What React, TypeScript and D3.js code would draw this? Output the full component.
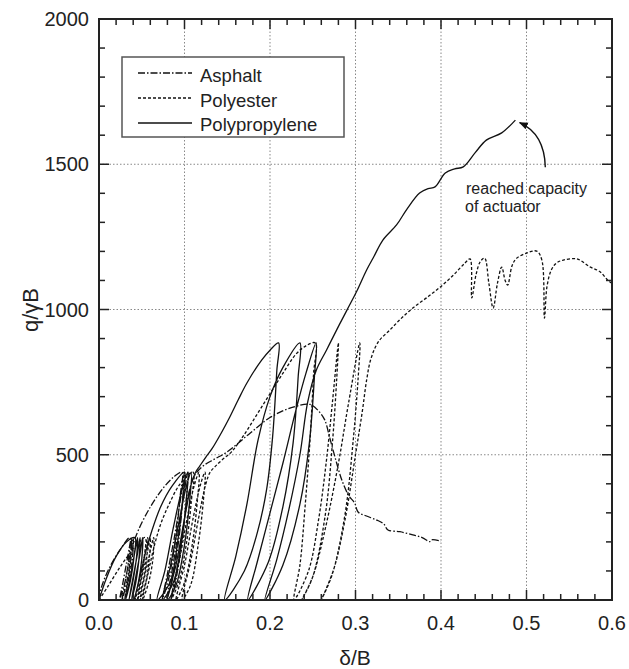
import React from "react";
import * as d3 from "d3";

type P = [number, number];

const xTicks = [0, 0.1, 0.2, 0.3, 0.4, 0.5, 0.6];
const yTicks = [0, 500, 1000, 1500, 2000];
const legendNames = ["Asphalt", "Polyester", "Polypropylene"];

const asphalt: P[] = [
  [0, 0], [0.003, 45], [0.012, 110], [0.024, 170], [0.036, 215],
  [0.035, 150], [0.031, 70], [0.024, 0], [0.028, 60], [0.033, 140], [0.038, 215],
  [0.037, 150], [0.033, 70], [0.027, 0], [0.031, 70], [0.036, 150], [0.04, 215],
  [0.039, 140], [0.034, 60], [0.03, 0],
  [0.035, 90], [0.04, 190], [0.046, 240], [0.06, 320], [0.075, 385], [0.088, 425], [0.097, 440],
  [0.095, 360], [0.09, 220], [0.082, 80], [0.074, 0], [0.08, 90], [0.089, 230], [0.096, 360], [0.1, 440],
  [0.098, 350], [0.093, 200], [0.085, 60], [0.079, 0], [0.086, 110], [0.094, 260], [0.1, 380], [0.104, 440],
  [0.102, 340], [0.096, 180], [0.088, 40], [0.084, 0],
  [0.092, 120], [0.1, 280], [0.106, 380], [0.112, 430], [0.122, 462], [0.135, 485], [0.149, 508],
  [0.175, 570], [0.2, 628], [0.225, 662], [0.247, 673],
  [0.257, 650], [0.264, 620], [0.27, 557], [0.276, 492], [0.284, 413], [0.292, 360], [0.299, 334],
  [0.303, 303], [0.312, 290], [0.325, 275], [0.333, 262], [0.338, 241], [0.352, 235], [0.367, 224],
  [0.378, 215], [0.387, 201], [0.389, 207], [0.4, 203],
];

const polyester: P[] = [
  [0, 0], [0.01, 45], [0.025, 115], [0.04, 175], [0.054, 215],
  [0.053, 150], [0.049, 70], [0.042, 0], [0.047, 70], [0.053, 150], [0.057, 215],
  [0.056, 150], [0.052, 70], [0.045, 0], [0.05, 75], [0.056, 155], [0.06, 215],
  [0.059, 150], [0.055, 65], [0.048, 0], [0.053, 75], [0.059, 155], [0.064, 215],
  [0.063, 140], [0.058, 60], [0.051, 0],
  [0.058, 100], [0.065, 190], [0.072, 260], [0.082, 330], [0.095, 400], [0.11, 440],
  [0.108, 340], [0.102, 190], [0.093, 60], [0.084, 0], [0.093, 120], [0.103, 280], [0.111, 390], [0.117, 440],
  [0.115, 340], [0.109, 190], [0.1, 60], [0.09, 0], [0.1, 120], [0.11, 280], [0.119, 400], [0.124, 440],
  [0.122, 340], [0.116, 190], [0.107, 50], [0.097, 0], [0.107, 130], [0.117, 290], [0.125, 400], [0.13, 440],
  [0.136, 460], [0.145, 485], [0.155, 510], [0.17, 570], [0.185, 640], [0.2, 710], [0.215, 780],
  [0.23, 845], [0.242, 875], [0.253, 885],
  [0.251, 780], [0.247, 560], [0.241, 320], [0.235, 120], [0.228, 0],
  [0.245, 100], [0.257, 280], [0.266, 480], [0.273, 680], [0.28, 885],
  [0.278, 760], [0.273, 540], [0.265, 300], [0.25, 80], [0.237, 0],
  [0.25, 80], [0.265, 250], [0.28, 470], [0.292, 680], [0.305, 885],
  [0.303, 760], [0.297, 540], [0.288, 300], [0.273, 90], [0.26, 0],
  [0.275, 110], [0.288, 280], [0.3, 500], [0.308, 650], [0.313, 757], [0.318, 830], [0.327, 890],
  [0.34, 929], [0.353, 968], [0.367, 1005], [0.383, 1040], [0.399, 1077], [0.415, 1120], [0.428, 1160],
  [0.434, 1174], [0.436, 1040], [0.441, 1120], [0.446, 1165], [0.451, 1177], [0.456, 1090], [0.461, 1005],
  [0.466, 1090], [0.471, 1146], [0.475, 1100], [0.478, 1084], [0.483, 1150], [0.488, 1175], [0.5, 1194],
  [0.512, 1201], [0.518, 1170], [0.521, 970], [0.524, 1080], [0.529, 1136], [0.535, 1160], [0.543, 1170],
  [0.559, 1174], [0.574, 1147], [0.586, 1130], [0.595, 1101], [0.6, 1090],
];

const polypropylene: P[] = [
  [0, 0], [0.008, 70], [0.02, 150], [0.032, 200], [0.042, 215],
  [0.041, 150], [0.037, 70], [0.031, 0], [0.036, 70], [0.041, 150], [0.045, 215],
  [0.044, 150], [0.04, 70], [0.035, 0], [0.04, 80], [0.045, 160], [0.048, 215],
  [0.047, 150], [0.043, 60], [0.038, 0], [0.043, 80], [0.048, 160], [0.051, 215],
  [0.05, 140], [0.046, 60], [0.041, 0],
  [0.048, 80], [0.055, 170], [0.062, 240], [0.072, 320], [0.085, 390], [0.1, 440],
  [0.098, 350], [0.092, 200], [0.083, 60], [0.068, 0], [0.077, 100], [0.087, 250], [0.097, 380], [0.104, 440],
  [0.102, 340], [0.096, 190], [0.087, 60], [0.074, 0], [0.083, 110], [0.093, 260], [0.102, 390], [0.108, 440],
  [0.106, 340], [0.1, 190], [0.09, 50], [0.08, 0], [0.09, 120], [0.1, 280], [0.108, 400], [0.113, 440],
  [0.118, 462], [0.125, 492], [0.132, 520], [0.143, 575], [0.153, 630], [0.163, 690], [0.173, 747],
  [0.19, 825], [0.2, 860], [0.21, 885],
  [0.208, 790], [0.203, 560], [0.196, 380], [0.185, 230], [0.17, 100], [0.147, 0],
  [0.16, 150], [0.173, 330], [0.186, 550], [0.2, 700], [0.215, 800], [0.235, 885],
  [0.233, 770], [0.227, 540], [0.215, 320], [0.198, 130], [0.174, 0],
  [0.185, 130], [0.2, 300], [0.215, 470], [0.23, 650], [0.242, 780], [0.254, 885],
  [0.252, 770], [0.246, 540], [0.235, 330], [0.215, 120], [0.194, 0],
  [0.208, 140], [0.222, 310], [0.235, 500], [0.244, 680], [0.254, 790], [0.266, 860], [0.278, 930],
  [0.29, 998], [0.301, 1060], [0.313, 1136], [0.322, 1185], [0.332, 1239], [0.348, 1291], [0.36, 1345],
  [0.375, 1401], [0.385, 1416], [0.393, 1422], [0.405, 1470], [0.416, 1484], [0.426, 1491], [0.44, 1540],
  [0.453, 1583], [0.471, 1608], [0.487, 1652],
];

const W = 629;
const H = 669;
const FONT = "'Liberation Sans', Arial, Helvetica, sans-serif";

export default function App() {
  const x = d3.scaleLinear().domain([0, 0.6]).range([99, 612]);
  const y = d3.scaleLinear().domain([0, 2000]).range([600, 19]);
  const line = d3
    .line<P>()
    .x((d) => x(d[0]))
    .y((d) => y(d[1]))
    .curve(d3.curveCatmullRom.alpha(0.5));

  const xMinor = d3.range(0, 0.6001, 0.02);
  const yMinor = d3.range(0, 2001, 100);
  const [x0, x1] = x.range();
  const [y0, y1] = y.range();

  const series = [
    { name: legendNames[0], data: asphalt, dash: "7,2,1.5,2" },
    { name: legendNames[1], data: polyester, dash: "3,2" },
    { name: legendNames[2], data: polypropylene, dash: "none" },
  ];

  const isMajorX = (v: number) => Math.abs(v * 10 - Math.round(v * 10)) < 1e-6;
  const isMajorY = (v: number) => v % 500 === 0;

  // annotation arrow in data coordinates
  const tip: P = [0.492, 1643];
  const tail: P = [0.522, 1490];
  const ctrl: P = [0.521, 1605];

  return (
    <svg
      width={W}
      height={H}
      style={{ position: "absolute", left: 0, top: 0, background: "#fff" }}
      fontFamily={FONT}
    >
      <defs>
        <marker id="arr" viewBox="0 0 10 10" refX={9} refY={5} markerWidth={9} markerHeight={9} markerUnits="userSpaceOnUse" orient="auto">
          <path d="M0,1 L10,5 L0,9 z" fill="#111" />
        </marker>
      </defs>
      <rect x={0} y={0} width={W} height={H} fill="#fff" />
      {/* grid */}
      {xTicks.slice(1, -1).map((t) => (
        <line key={"gx" + t} x1={x(t)} x2={x(t)} y1={y0} y2={y1} stroke="#888" strokeWidth={1} strokeDasharray="1.5,2" />
      ))}
      {yTicks.slice(1, -1).map((t) => (
        <line key={"gy" + t} x1={x0} x2={x1} y1={y(t)} y2={y(t)} stroke="#888" strokeWidth={1} strokeDasharray="1.5,2" />
      ))}
      {/* series */}
      {series.map((s) => (
        <path
          key={s.name}
          d={line(s.data) || ""}
          fill="none"
          stroke="#111"
          strokeWidth={1.3}
          strokeDasharray={s.dash}
        />
      ))}
      {/* ticks */}
      {xMinor.map((t) => {
        const len = isMajorX(t) ? 10 : 6;
        return (
          <g key={"tx" + t}>
            <line x1={x(t)} x2={x(t)} y1={y0} y2={y0 - len} stroke="#222" strokeWidth={1.5} />
            <line x1={x(t)} x2={x(t)} y1={y1} y2={y1 + len} stroke="#222" strokeWidth={1.5} />
          </g>
        );
      })}
      {yMinor.map((t) => {
        const len = isMajorY(t) ? 10 : 6;
        return (
          <g key={"ty" + t}>
            <line x1={x0} x2={x0 + len} y1={y(t)} y2={y(t)} stroke="#222" strokeWidth={1.5} />
            <line x1={x1} x2={x1 - len} y1={y(t)} y2={y(t)} stroke="#222" strokeWidth={1.5} />
          </g>
        );
      })}
      {/* frame */}
      <rect x={x0} y={y1} width={x1 - x0} height={y0 - y1} fill="none" stroke="#222" strokeWidth={2} />
      {/* tick labels */}
      {xTicks.map((t) => (
        <text key={"lx" + t} x={x(t)} y={630} textAnchor="middle" fontSize={20} fill="#222">
          {t.toFixed(1)}
        </text>
      ))}
      {yTicks.map((t) => (
        <text key={"ly" + t} x={89} y={y(t) + 7} textAnchor="end" fontSize={20} fill="#222">
          {t}
        </text>
      ))}
      {/* axis titles */}
      <text x={355} y={665} textAnchor="middle" fontSize={21} fill="#222">δ/B</text>
      <text
        transform={`translate(38,${310}) rotate(-90)`}
        textAnchor="middle"
        fontSize={22}
        fill="#222"
      >
        q/γB
      </text>
      {/* legend */}
      <rect x={122} y={57} width={222} height={80} fill="#fff" stroke="#555" strokeWidth={1.5} />
      {series.map((s, i) => (
        <g key={"lg" + s.name}>
          <line
            x1={138}
            x2={192}
            y1={73 + i * 25}
            y2={73 + i * 25}
            stroke="#111"
            strokeWidth={1.3}
            strokeDasharray={s.dash}
          />
          <text x={200} y={82 + i * 24.5} fontSize={18.5} fill="#222">
            {s.name}
          </text>
        </g>
      ))}
      {/* annotation */}
      <path
        d={`M${x(tail[0])},${y(tail[1])} Q${x(ctrl[0])},${y(ctrl[1])} ${x(tip[0])},${y(tip[1])}`}
        fill="none"
        stroke="#111"
        strokeWidth={1.4}
        markerEnd="url(#arr)"
      />
      <text x={466} y={194} fontSize={16} fill="#222">reached capacity</text>
      <text x={465} y={212} fontSize={16} fill="#222">of actuator</text>
    </svg>
  );
}
